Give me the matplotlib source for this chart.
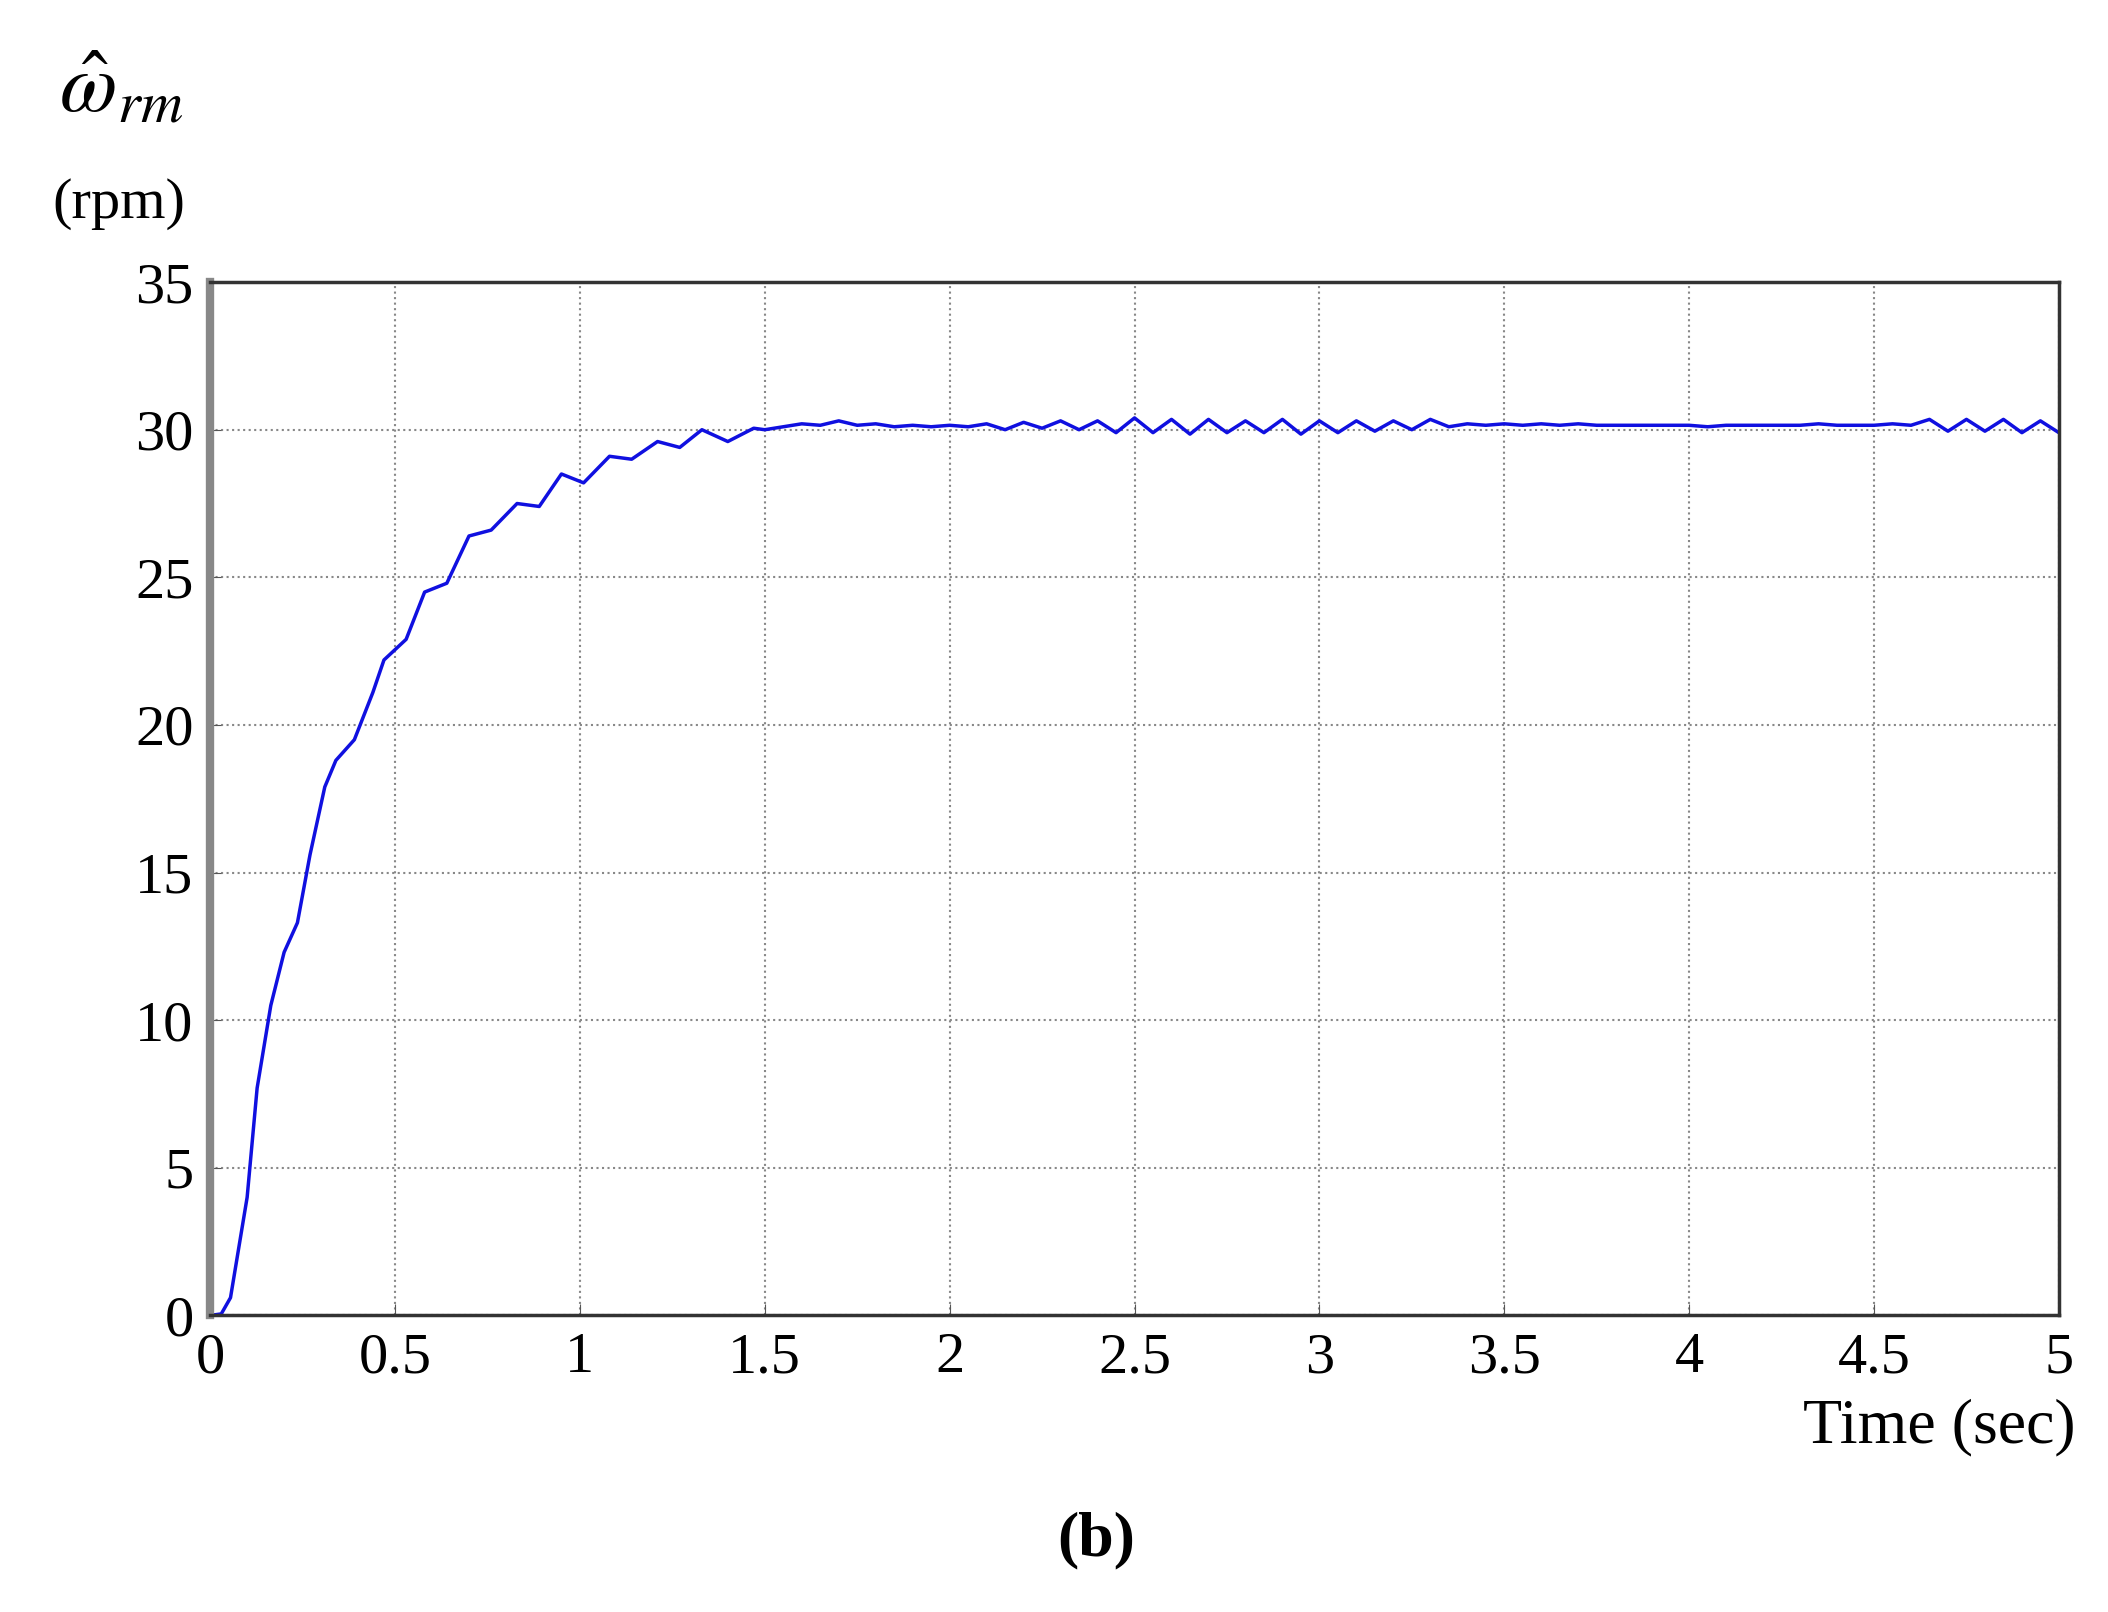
import numpy as np
import matplotlib.pyplot as plt

plt.rcParams['font.family'] = ['Liberation Serif', 'DejaVu Serif']
plt.rcParams['mathtext.fontset'] = 'stix'

# rise part
t_rise = [0, 0.03, 0.055, 0.1, 0.127, 0.164, 0.2, 0.236, 0.27, 0.31, 0.34, 0.39, 0.44,
          0.47, 0.53, 0.58, 0.64, 0.7, 0.76, 0.83, 0.89, 0.95, 1.01, 1.08, 1.14, 1.21,
          1.27, 1.33, 1.4, 1.47]
w_rise = [0, 0.05, 0.6, 4.0, 7.7, 10.5, 12.3, 13.3, 15.6, 17.9, 18.8, 19.5, 21.1,
          22.2, 22.9, 24.5, 24.8, 26.4, 26.6, 27.5, 27.4, 28.5, 28.2, 29.1, 29.0, 29.6,
          29.4, 30.0, 29.6, 30.05]
# steady part, every 0.05 s from 1.5 to 5.0
t_ss = [1.5 + 0.05 * i for i in range(71)]
w_ss = [30.0, 30.1, 30.2, 30.15, 30.3, 30.15, 30.2, 30.1, 30.15, 30.1, 30.15, 30.1,
        30.2, 30.0, 30.25, 30.05, 30.3, 30.0, 30.3, 29.9, 30.4, 29.9, 30.35, 29.85,
        30.35, 29.9, 30.3, 29.9, 30.35, 29.85, 30.3, 29.9, 30.3, 29.95, 30.3, 30.0,
        30.35, 30.1, 30.2, 30.15, 30.2, 30.15, 30.2, 30.15, 30.2, 30.15, 30.15, 30.15,
        30.15, 30.15, 30.15, 30.1, 30.15, 30.15, 30.15, 30.15, 30.15, 30.2, 30.15,
        30.15, 30.15, 30.2, 30.15, 30.35, 29.95, 30.35, 29.95, 30.35, 29.9, 30.3, 29.9]

t = np.array(t_rise + t_ss)
w = np.array(w_rise + w_ss)

fig = plt.figure(figsize=(21.08, 16.12), dpi=100)
ax = fig.add_axes([0.0997, 0.184, 0.877, 0.641])
ax.plot(t, w, color='#1010e0', lw=2.5)
ax.set_xlim(0, 5)
ax.set_ylim(0, 35)
ax.set_xticks(np.arange(0, 5.01, 0.5))
ax.set_xticklabels(['0', '0.5', '1', '1.5', '2', '2.5', '3', '3.5', '4', '4.5', '5'])
ax.set_yticks(np.arange(0, 36, 5))
ax.set_yticklabels(['0', '5', '10', '15', '20', '25', '30', '35'])
ax.tick_params(direction='in', labelsize=42, length=8, color='#555555', pad=12)
ax.grid(True, linestyle=':', color='#888888', lw=1.5)
for s in ax.spines.values():
    s.set_color('#333333')
    s.set_linewidth(2.5)
ax.spines['left'].set_color('#888888')
ax.spines['left'].set_linewidth(6)

fig.text(0.92, 0.105, 'Time (sec)', fontsize=46, ha='center')
fig.text(0.028, 0.93, r'$\hat{\omega}_{rm}$', fontsize=60)
fig.text(0.025, 0.865, '(rpm)', fontsize=42)
fig.text(0.52, 0.035, '(b)', fontsize=46, fontweight='bold', ha='center')

fig.savefig('out.png', dpi=100)
